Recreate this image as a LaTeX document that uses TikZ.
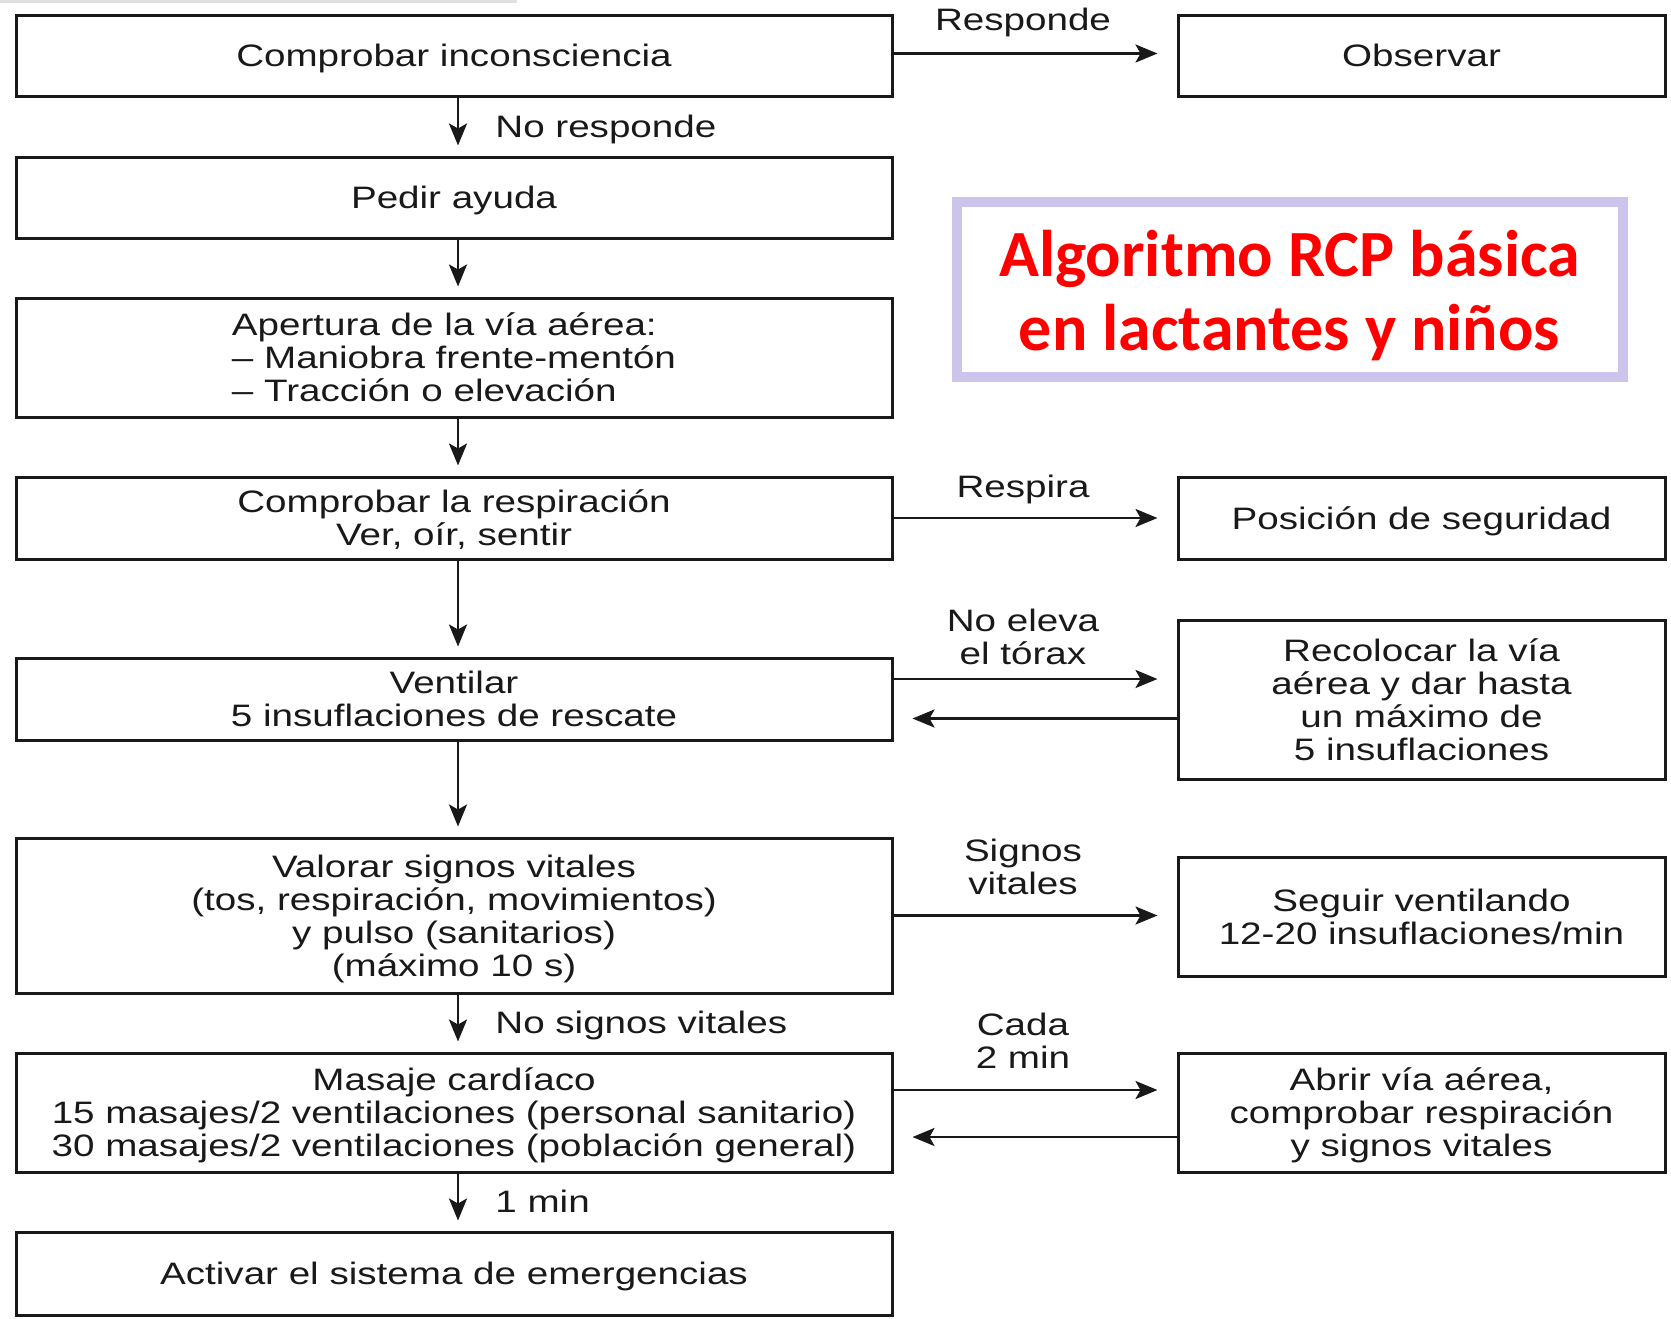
\documentclass[tikz,border=0pt]{standalone}
\usepackage{fontspec}
\setmainfont{Liberation Sans}[FakeStretch=1.245]
\newfontfamily\titlefont{Carlito}
\usetikzlibrary{arrows.meta}
\definecolor{ink}{RGB}{25,25,25}
\definecolor{lav}{RGB}{204,196,234}
\definecolor{titlered}{RGB}{255,0,0}
\begin{document}
\begin{tikzpicture}[x=1pt,y=-1pt,
  box/.style={draw=ink, line width=3pt, inner sep=0pt, align=center, text=ink,
    text height=29pt, text depth=7pt, font=\fontsize{31}{33}\selectfont},
  two/.style={text height=62pt},
  three/.style={text height=95pt},
  four/.style={text height=128pt},
  lbox/.style={box, minimum width=876pt},
  rbox/.style={box, minimum width=487pt},
  arr/.style={draw=ink, line width=2.8pt, -{Stealth[length=22pt,width=18pt,inset=5pt]}},
  varr/.style={arr, shorten >=10pt},
  harr/.style={arr, shorten >=19pt},
  lbl/.style={text=ink, align=center, inner sep=0pt, font=\fontsize{31}{33}\selectfont},
  titlebox/.style={draw=lav, line width=10pt, inner sep=0pt, align=center, text=titlered,
    text height=129pt, text depth=7.5pt,
    font=\titlefont\bfseries\fontsize{66}{74}\selectfont}
]
\useasboundingbox (0,0) rectangle (1671,1318);
\fill[gray!25] (0,0) rectangle (517,3);

% left column
\node[lbox, minimum height=81pt] (b1) at (454,55.5) {Comprobar inconsciencia};
\node[lbox, minimum height=81pt] (b2) at (454,197.5) {Pedir ayuda};
\node[lbox, three, minimum height=119pt, align=left] (b3) at (454,357.5) {Apertura de la vía aérea:\\– Maniobra frente-mentón\\– Tracción o elevación};
\node[lbox, two, minimum height=82pt] (b4) at (454,518) {Comprobar la respiración\\Ver, oír, sentir};
\node[lbox, two, minimum height=82pt] (b5) at (454,699) {Ventilar\\5 insuflaciones de rescate};
\node[lbox, four, minimum height=155pt] (b6) at (454,915.5) {Valorar signos vitales\\(tos, respiración, movimientos)\\y pulso (sanitarios)\\(máximo 10 s)};
\node[lbox, three, minimum height=119pt] (b7) at (454,1112.5) {Masaje cardíaco\\15 masajes/2 ventilaciones (personal sanitario)\\30 masajes/2 ventilaciones (población general)};
\node[lbox, minimum height=83pt] (b8) at (454,1273.5) {Activar el sistema de emergencias};

% right column
\node[rbox, minimum height=81pt] (obs) at (1421.5,55.5) {Observar};
\node[rbox, minimum height=82pt] (pos) at (1421.5,518) {Posición de seguridad};
\node[rbox, four, minimum height=159pt] (rec) at (1421.5,699.5) {Recolocar la vía\\aérea y dar hasta\\un máximo de\\5 insuflaciones};
\node[rbox, two, minimum height=119pt] (seg) at (1421.5,916.5) {Seguir ventilando\\12-20 insuflaciones/min};
\node[rbox, three, minimum height=119pt] (abr) at (1421.5,1112.5) {Abrir vía aérea,\\comprobar respiración\\y signos vitales};

% title
\node[titlebox, minimum width=666pt, minimum height=174.5pt] (title) at (1289.5,289.25) {Algoritmo RCP básica\\en lactantes y niños};

% vertical arrows
\draw[varr] ([xshift=4pt]b1.south) -- ([xshift=4pt]b2.north) node[lbl, midway, anchor=base west, xshift=36pt, yshift=-11pt] {No responde};
\draw[varr] ([xshift=4pt]b2.south) -- ([xshift=4pt]b3.north);
\draw[varr] ([xshift=4pt]b3.south) -- ([xshift=4pt]b4.north);
\draw[varr] ([xshift=4pt]b4.south) -- ([xshift=4pt]b5.north);
\draw[varr] ([xshift=4pt]b5.south) -- ([xshift=4pt]b6.north);
\draw[varr] ([xshift=4pt]b6.south) -- ([xshift=4pt]b7.north) node[lbl, midway, anchor=base west, xshift=36pt, yshift=-10pt] {No signos vitales};
\draw[varr] ([xshift=4pt]b7.south) -- ([xshift=4pt]b8.north) node[lbl, midway, anchor=base west, xshift=36pt, yshift=-10pt] {1 min};

% horizontal arrows
\draw[harr] ([yshift=2pt]b1.east) -- ([yshift=2pt]b1.east -| obs.west) node[lbl, midway, anchor=base, xshift=-12pt, yshift=23pt] {Responde};
\draw[harr] (b4.east) -- (b4.east -| pos.west) node[lbl, midway, anchor=base, xshift=-12pt, yshift=21pt] {Respira};
\draw[harr] ([yshift=20pt]b5.east) -- ([yshift=20pt]b5.east -| rec.west) node[lbl, midway, anchor=base, xshift=-12pt, yshift=15pt] {No eleva\\el tórax};
\draw[harr] ([yshift=-19pt]rec.west) -- ([yshift=-19pt]rec.west -| b5.east);
\draw[harr] (b6.east) -- (b6.east -| seg.west) node[lbl, midway, anchor=base, xshift=-12pt, yshift=21pt] {Signos\\vitales};
\draw[harr] ([yshift=22.5pt]b7.east) -- ([yshift=22.5pt]b7.east -| abr.west) node[lbl, midway, anchor=base, xshift=-12pt, yshift=22pt] {Cada\\2 min};
\draw[harr] ([yshift=-24.5pt]abr.west) -- ([yshift=-24.5pt]abr.west -| b7.east);
\end{tikzpicture}
\end{document}
